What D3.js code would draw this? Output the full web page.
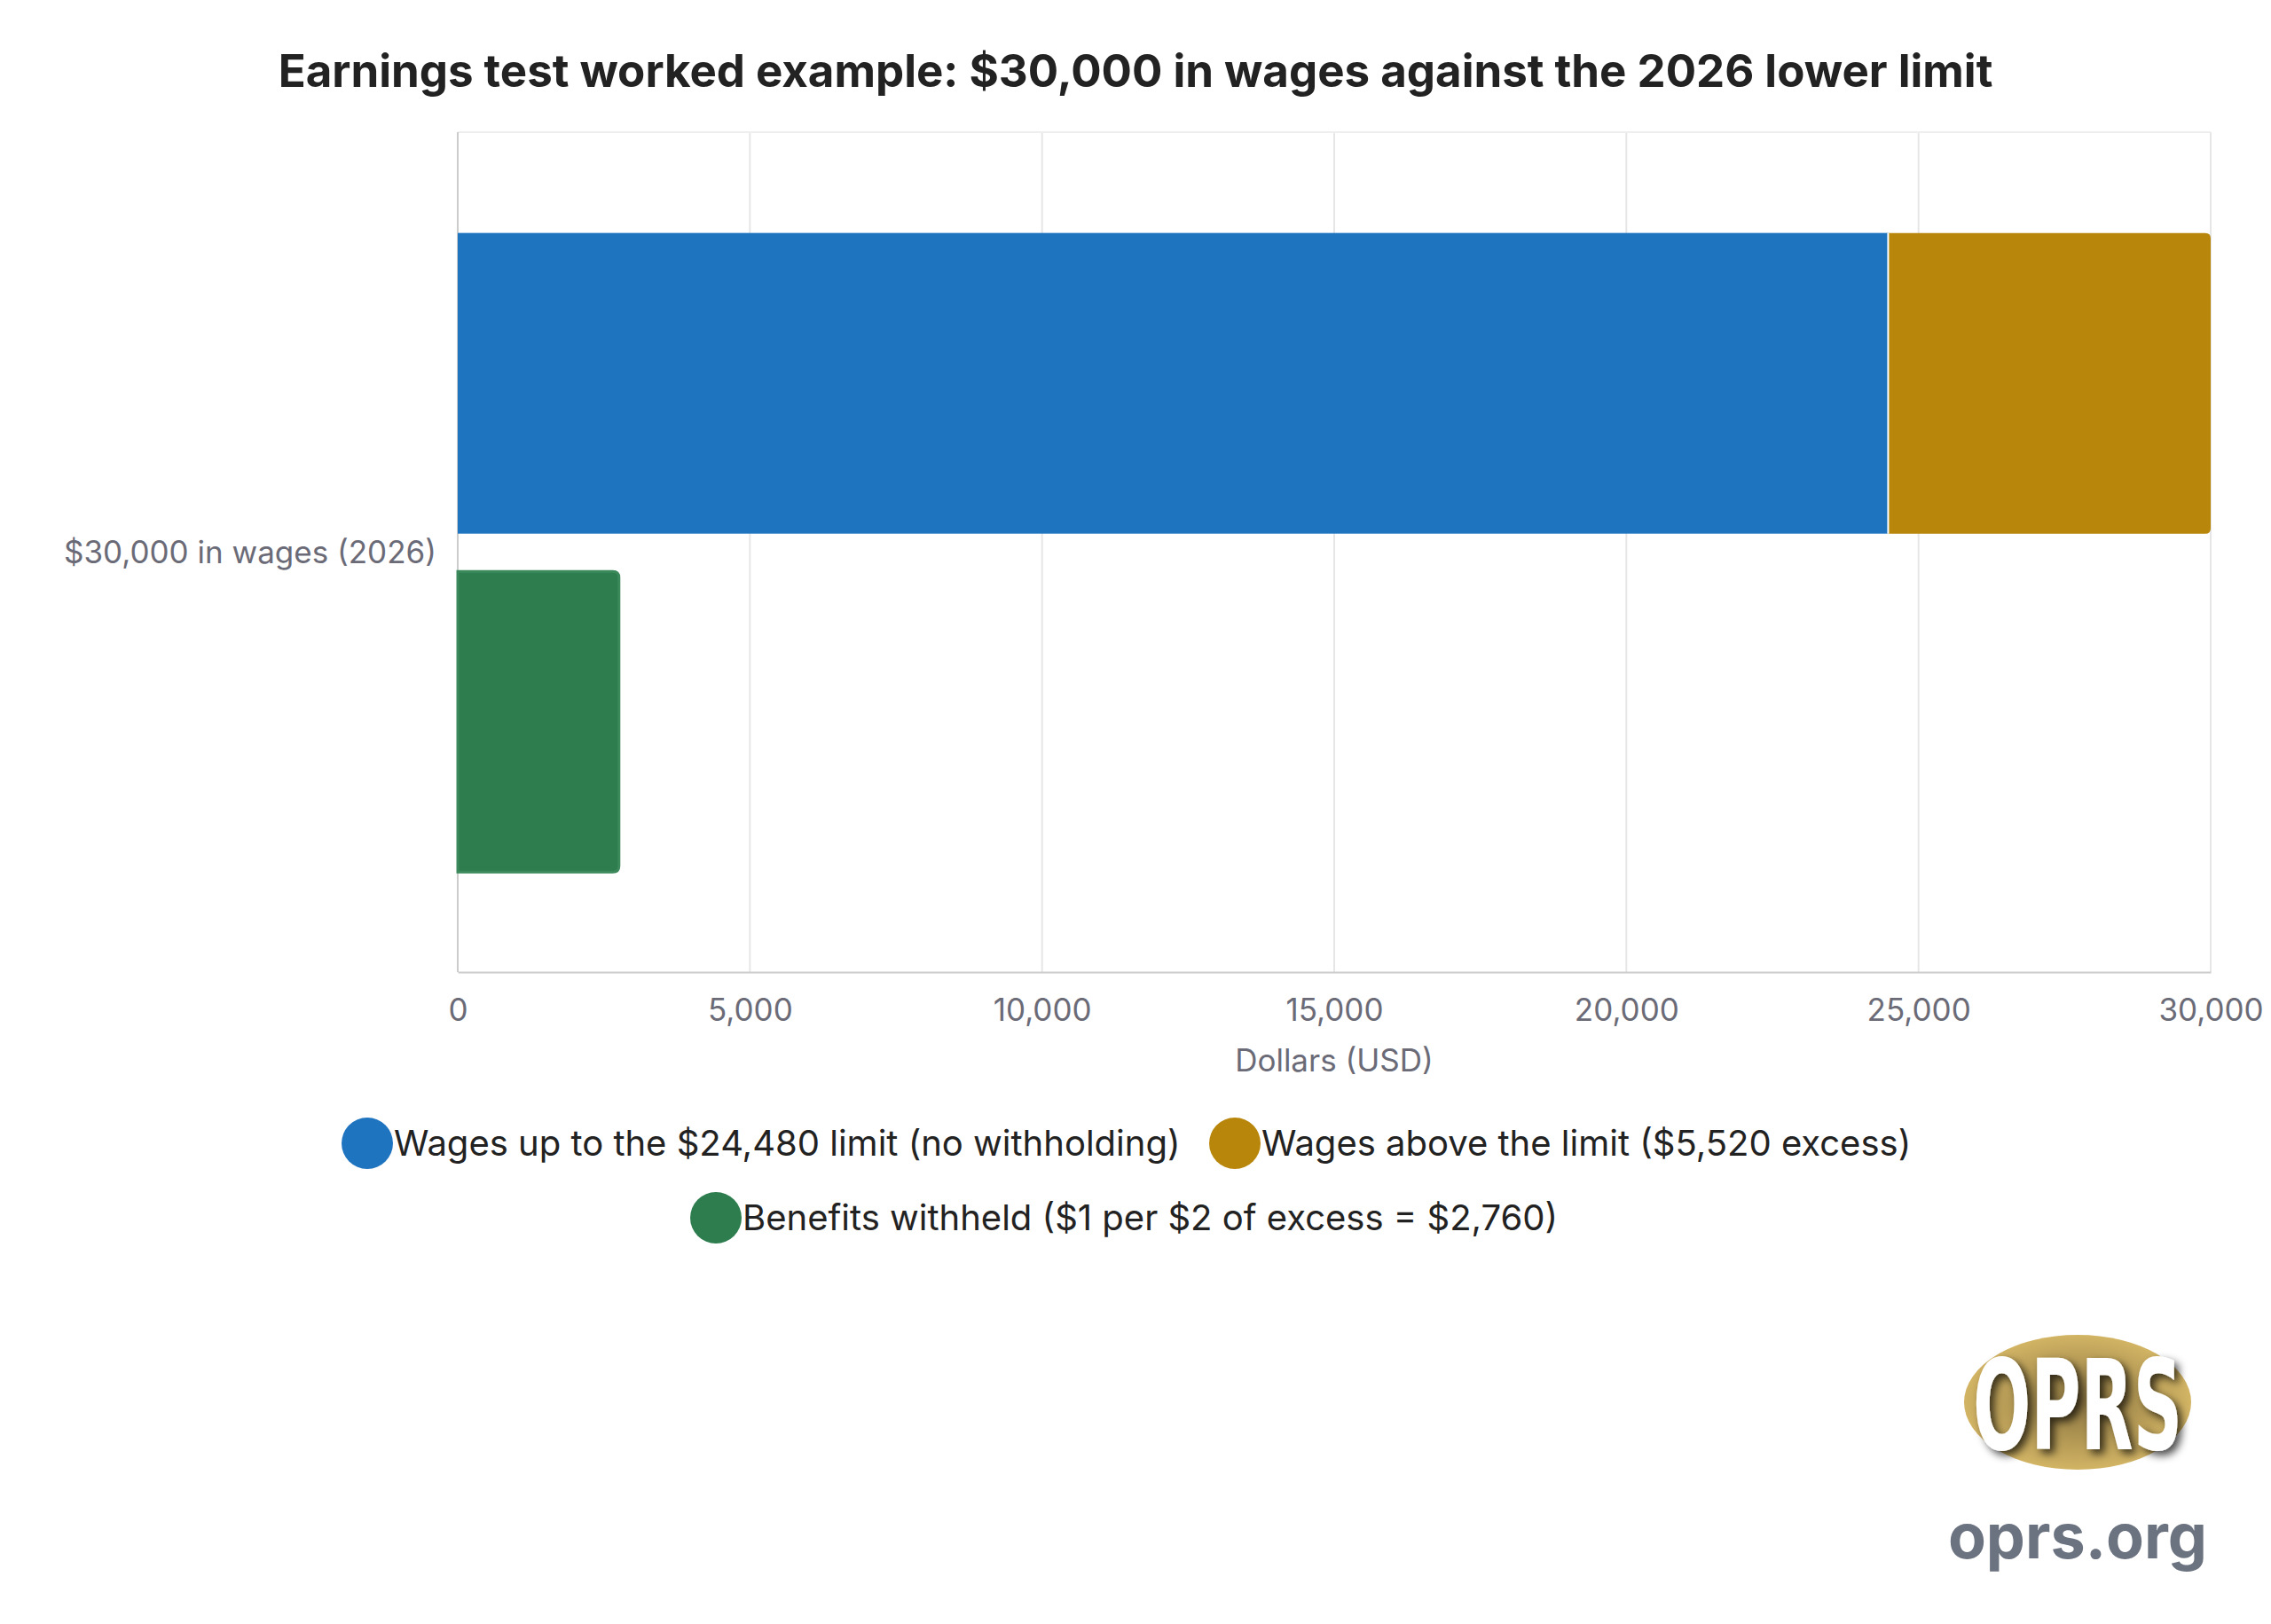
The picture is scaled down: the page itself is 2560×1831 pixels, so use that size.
<!DOCTYPE html>
<html><head><meta charset="utf-8">
<script src="https://cdn.jsdelivr.net/npm/d3@7"></script>
<style>body{margin:0;background:#fff}svg{font-family:Inter,"Noto Sans",sans-serif}</style>
</head><body>
<svg id="svg" width="2560" height="1831"></svg>
<script>
var categories = ["$30,000 in wages (2026)"];
var seriesNames = ["Wages up to the $24,480 limit (no withholding)", "Wages above the limit ($5,520 excess)", "Benefits withheld ($1 per $2 of excess = $2,760)"];
var seriesColors = ["#1f74c0", "#b8860b", "#2e7d4f"];
var underLimit = [24480];
var aboveLimit = [5520];
var withheld = [2760];
var xTicks = [0, 5000, 10000, 15000, 20000, 25000, 30000];

var svg = d3.select("#svg");
var plotLeft = 516, plotRight = 2492, plotTop = 149, plotBottom = 1096;

svg.append("text").attr("x", 1280).attr("y", 98).attr("text-anchor", "middle")
  .style("font-size", "51px").style("font-weight", "700").attr("fill", "#222")
  .text("Earnings test worked example: $30,000 in wages against the 2026 lower limit");

var scaleX = d3.scaleLinear().domain([0, 30000]).range([plotLeft, plotRight]);
var scaleY = d3.scaleBand().domain(categories).range([plotTop, plotBottom]);

// grid
svg.selectAll(".grid").data(xTicks).enter().append("line")
  .attr("x1", d => scaleX(d)).attr("x2", d => scaleX(d))
  .attr("y1", plotTop).attr("y2", plotBottom).attr("stroke", "#e6e6e6").attr("stroke-width", 2);
svg.append("line").attr("x1", plotLeft).attr("x2", plotRight).attr("y1", plotTop).attr("y2", plotTop).attr("stroke", "#eee").attr("stroke-width", 2);
svg.append("line").attr("x1", plotLeft).attr("x2", plotLeft).attr("y1", plotTop).attr("y2", plotBottom).attr("stroke", "#ccc").attr("stroke-width", 2);

var axisX = d3.axisBottom(scaleX).tickValues(xTicks).tickFormat(d3.format(",")).tickSize(0).tickPadding(30);
var gX = svg.append("g").attr("transform", "translate(0," + plotBottom + ")").call(axisX);
gX.select(".domain").attr("stroke", "#ccc").attr("stroke-width", 2);
gX.selectAll("text").style("font-size", "35px").attr("fill", "#6b6b78").style("font-family", "Inter");

svg.append("text").attr("x", (plotLeft + plotRight) / 2).attr("y", 1208).attr("text-anchor", "middle")
  .style("font-size", "35px").attr("fill", "#6b6b78").text("Dollars (USD)");

svg.append("text").attr("x", 492).attr("y", scaleY(categories[0]) + scaleY.bandwidth() / 2 + 12)
  .attr("text-anchor", "end").style("font-size", "35px").attr("fill", "#6b6b78").text(categories[0]);

var band = scaleY.bandwidth();
var y0 = scaleY(categories[0]);
var barH = band * 0.358, y1 = y0 + band * 0.12, y2 = y0 + band * 0.523;

// stacked wages bar
var g = svg.append("g");
g.append("path").attr("fill", seriesColors[1]).attr("d", function () {
  var x0 = scaleX(underLimit[0]), x1 = scaleX(underLimit[0] + aboveLimit[0]), r = 6;
  return "M" + x0 + "," + y1 + "H" + (x1 - r) + "Q" + x1 + "," + y1 + " " + x1 + "," + (y1 + r) +
    "V" + (y1 + barH - r) + "Q" + x1 + "," + (y1 + barH) + " " + (x1 - r) + "," + (y1 + barH) + "H" + x0 + "Z";
});
g.append("rect").attr("x", scaleX(0)).attr("y", y1).attr("width", scaleX(underLimit[0]) - scaleX(0))
  .attr("height", barH).attr("fill", seriesColors[0]);
g.append("line").attr("x1", scaleX(underLimit[0])).attr("x2", scaleX(underLimit[0])).attr("y1", y1).attr("y2", y1 + barH).attr("stroke", "#fff").attr("stroke-width", 2);
// withheld
g.append("path").attr("fill", seriesColors[2]).attr("stroke", "#3c8a5c").attr("stroke-width", 3).attr("d", function () {
  var x0 = scaleX(0), x1 = scaleX(withheld[0]), r = 7;
  return "M" + x0 + "," + y2 + "H" + (x1 - r) + "Q" + x1 + "," + y2 + " " + x1 + "," + (y2 + r) +
    "V" + (y2 + barH - r) + "Q" + x1 + "," + (y2 + barH) + " " + (x1 - r) + "," + (y2 + barH) + "H" + x0 + "Z";
});

// legend
var legendPos = [[414, 1289], [1392, 1289], [807, 1373]];
seriesNames.forEach(function (n, i) {
  svg.append("circle").attr("cx", legendPos[i][0]).attr("cy", legendPos[i][1]).attr("r", 29).attr("fill", seriesColors[i]);
  svg.append("text").attr("x", legendPos[i][0] + 30).attr("y", legendPos[i][1] + 14)
    .style("font-size", "40px").attr("fill", "#222").text(n);
});

// logo
var defs = svg.append("defs");
var f = defs.append("filter").attr("id", "sh").attr("x", "-20%").attr("y", "-20%").attr("width", "140%").attr("height", "140%");
f.append("feDropShadow").attr("dx", 5).attr("dy", 5).attr("stdDeviation", 5).attr("flood-color", "#000").attr("flood-opacity", 0.7);
var gr = defs.append("radialGradient").attr("id", "gold");
gr.append("stop").attr("offset", "0%").attr("stop-color", "#8a7440");
gr.append("stop").attr("offset", "100%").attr("stop-color", "#d2b464");
svg.append("ellipse").attr("cx", 2342).attr("cy", 1581).attr("rx", 128).attr("ry", 76).attr("fill", "url(#gold)");
svg.append("text").attr("x", 2342).attr("y", 1634).attr("text-anchor", "middle")
  .attr("textLength", 236).attr("lengthAdjust", "spacingAndGlyphs")
  .style("font-size", "140px").style("font-weight", "900").style("font-family", "'Liberation Sans Narrow','DejaVu Sans Condensed',sans-serif")
  .attr("fill", "#fff").attr("filter", "url(#sh)").text("OPRS");
svg.append("text").attr("x", 2342).attr("y", 1757).attr("text-anchor", "middle")
  .style("font-size", "70px").style("font-weight", "700").attr("fill", "#6b7280").text("oprs.org");
</script>
</body></html>
